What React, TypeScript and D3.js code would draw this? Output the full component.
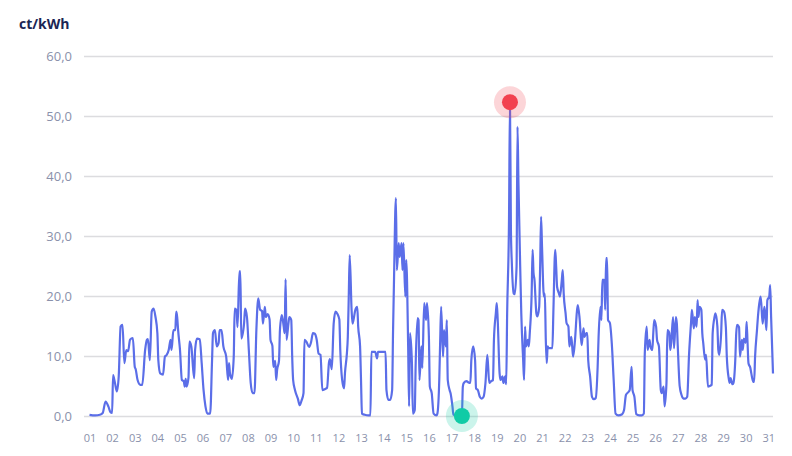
import React, { useEffect, useRef } from 'react';
import * as d3 from 'd3';

// [hour of month, ct/kWh]
const week1: [number, number][] = [
  [0, 0.2], [6, 0.1], [11, 0.2], [14, 0.5], [17, 2.4], [20, 1.6], [22, 0.7], [24, 0.5], [25, 6.8], [27, 5.5],
  [29, 4.1], [31, 6.6], [33, 14.9], [35, 15.2], [37, 8.8], [39, 11], [41, 10.8], [43, 12.7], [46, 13], [48, 8.2],
  [49, 7.8], [51, 6], [54, 5.2], [56, 5.2], [59, 11], [61, 12.7], [62, 12.8], [64, 9.3], [66, 17.4], [68, 17.9],
  [70, 16.5], [72, 13.8], [73, 9.3], [75, 7.1], [78, 6.9], [80, 9.9], [82, 10.2], [84, 11], [86, 12.7], [87, 11],
  [89, 14.3], [91, 14.3], [92, 17.4], [93, 16.5], [94, 14.3], [96, 11], [98, 6], [100, 5.8], [101, 4.9], [102, 6.2],
  [103, 4.9], [105, 6.4], [106, 12.4], [108, 11.6], [111, 6.3], [112, 11], [114, 12.9], [117, 12.8], [119, 8.8], [121, 4.3],
  [123, 1.6], [125, 0.4], [128, 0.4], [130, 9.3], [131, 13.8], [133, 14.3], [135, 11.6], [137, 12.2], [138, 14.3], [140, 14.3],
  [142, 11.6], [145, 9.9], [147, 6], [148, 8.8], [149, 7.1], [151, 6.2], [153, 9.9], [154, 17.9], [156, 17.6], [157, 14.8],
  [159, 24.1], [160, 24.1], [161, 12.9], [164, 15.5], [165, 17.9], [167, 16.5],
];

const week2: [number, number][] = [
  [169, 11], [171, 5.5], [173, 3.8], [175, 3.8], [177, 14.3], [179, 19.6], [181, 17.7], [183, 17.5], [184, 15.4], [186, 18.2],
  [187, 16.5], [189, 17], [191, 16.1], [192, 12.7], [194, 11.7], [195, 8.2], [197, 9.2], [198, 6], [199, 7.7], [201, 9.2],
  [202, 14.3], [204, 16.8], [206, 14.9], [207, 13.8], [208, 22.8], [209, 12.7], [211, 15.4], [212, 16.5], [214, 16], [215, 9.9],
  [216, 6], [218, 4.3], [221, 2.9], [223, 1.8], [225, 2.6], [227, 3.8], [228, 12.7], [230, 12.4], [233, 11.5], [235, 12.3],
  [237, 13.8], [239, 13.7], [241, 12.7], [243, 10.4], [245, 10.2], [247, 4.3], [250, 4.5], [252, 4.7], [254, 8.9], [255, 9.5],
  [257, 7.8], [259, 15.4], [261, 17.4], [263, 17], [265, 16.1], [266, 11], [268, 6], [270, 4.6], [271, 7.2], [273, 10.4],
  [274, 13.2], [275, 19.9], [276, 26.8], [278, 17.7], [279, 15.4], [280, 16], [282, 17.7], [284, 18.2], [285, 14.9], [287, 11.6],
  [288, 6], [289, 0.4], [292, 0.2], [296, 0.1], [298, 0.1], [299, 10.7], [303, 10.7], [305, 9.6], [306, 10.7], [314, 10.7],
  [315, 4.3], [317, 2.7], [319, 2.7], [321, 4.3], [322, 14.3], [323, 22.7], [325, 36.3], [326, 24.3], [328, 28.8], [329, 26.5],
  [331, 28.8], [332, 24.3], [333, 28.8], [335, 19.9],
];

const week3: [number, number][] = [
  [336, 26], [338, 11.6], [339, 1.6], [340, 13.8], [342, 8.8], [343, 0.4], [345, 1], [346, 8.8], [348, 16.3], [349, 16],
  [350, 6], [352, 11.6], [353, 8], [355, 18.8], [357, 16], [358, 18.8], [360, 13.2], [361, 4.9], [363, 3.8], [365, 0.4],
  [368, 0.1], [369, 0.4], [371, 6], [372, 12.7], [373, 18.2], [375, 9.9], [376, 14.3], [378, 11.6], [379, 16], [380, 6],
  [382, 4.3], [383, 3.8], [385, 1.6], [386, 0.2], [390, 0.1], [393, 0.1], [395, 0], [396, 4.9], [397, 5.5], [400, 5.8],
  [402, 5.6], [404, 5.5], [405, 9.3], [407, 11.6], [409, 9.3], [410, 4.6], [412, 4.3], [414, 3.2], [416, 2.9], [418, 3.2],
  [420, 5.5], [422, 10.2], [424, 5.5], [426, 5.8], [428, 6], [429, 12.7], [431, 17.1], [432, 18.8], [433, 16], [435, 7.1],
  [436, 6], [438, 6.6], [439, 5.5], [441, 6.6], [442, 5.3], [443, 17], [445, 33], [446, 52.3], [447, 31], [448, 25.4],
  [450, 20.4], [451, 20.3], [453, 24.9], [454, 48.2], [455, 38.8], [457, 23.8], [458, 17.1], [460, 9.3], [461, 6], [462, 14.9],
  [463, 11.6], [465, 12.7], [466, 11.6], [467, 13.8], [469, 20.4], [470, 27.7], [471, 23.8], [472, 22.7], [474, 17.1], [475, 16.6],
  [477, 18.2], [478, 24.9], [479, 33.2], [480, 28.2], [482, 19.9], [483, 20.4], [484, 12.7], [485, 8.8], [486, 11.6], [487, 11.3],
  [491, 11.3], [492, 17.1], [494, 27.7], [495, 24.9], [496, 21.5], [498, 20.4], [499, 19.9], [501, 22.7], [502, 24.3], [503, 20.4],
];

const week4: [number, number][] = [
  [505, 17.1], [506, 15.5], [508, 14.9], [509, 11.6], [511, 13.2], [512, 11.6], [513, 9.9], [515, 12.7], [517, 17.4], [518, 18.5],
  [520, 16], [522, 11.8], [524, 14.6], [525, 13.2], [527, 13.8], [528, 13.8], [529, 9.3], [531, 6.6], [533, 3.2], [535, 2.8],
  [537, 3], [539, 8.2], [540, 13.2], [542, 18.2], [543, 16], [544, 22.7], [546, 22.7], [547, 17.7], [548, 26.3], [549, 26.3],
  [550, 16], [552, 15.5], [554, 12.1], [556, 6], [558, 0.4], [561, 0.1], [565, 0.3], [567, 1], [569, 3.5], [571, 3.9],
  [573, 4.3], [575, 8.2], [576, 4.3], [578, 3.2], [580, 0.3], [583, 0.1], [586, 0.1], [588, 0.4], [589, 10.4], [591, 14.9],
  [592, 11], [594, 12.7], [595, 11.6], [597, 11], [598, 13.8], [599, 16], [601, 14.9], [602, 12.7], [604, 11.6], [606, 4.3],
  [607, 3.8], [609, 4.9], [610, 1.6], [612, 5.5], [613, 14.3], [615, 13.8], [616, 11], [617, 12.2], [619, 16.5], [620, 11.3],
  [622, 16.5], [623, 15.4], [624, 11.6], [626, 5], [628, 3.5], [630, 2.9], [632, 2.9], [634, 3.2], [636, 10.4], [638, 15.4],
  [639, 17.7], [641, 14.6], [642, 16.5], [644, 14.9], [645, 19.3], [646, 16.5], [647, 18.2], [649, 17.7], [650, 13.8], [651, 12.2],
  [653, 9.4], [654, 10.2], [656, 4.9], [658, 5], [660, 5.2], [661, 13.8], [663, 16.5], [664, 17.1], [666, 14.9], [667, 11],
  [668, 10.2], [670, 13.8], [671, 17.7],
];

const week5: [number, number][] = [
  [673, 17.4], [675, 14.8], [676, 9.9], [678, 6.3], [679, 5.5], [680, 6.3], [682, 5.3], [683, 5.5], [685, 9.4], [686, 13.8],
  [687, 15.2], [689, 14.8], [690, 9.9], [692, 12.7], [693, 11], [694, 12.9], [696, 12.2], [697, 15.7], [698, 12.2], [699, 8.8],
  [701, 8], [702, 7.1], [704, 5.7], [705, 5.7], [706, 9.9], [708, 14.3], [709, 16.5], [711, 19.3], [712, 19.9], [714, 15.4],
  [715, 17.1], [716, 18.2], [718, 14.3], [719, 19.3], [721, 19.9], [722, 21.8], [723, 16.5], [725, 7.1],
];

const dayLabels = [
  "01", "02", "03", "04", "05", "06", "07", "08", "09", "10", "11", "12", "13", "14", "15", "16",
  "17", "18", "19", "20", "21", "22", "23", "24", "25", "26", "27", "28", "29", "30", "31",
];
const priceTicks = [0, 10, 20, 30, 40, 50, 60];

export default function App() {
  const svgRef = useRef<SVGSVGElement>(null);

  useEffect(() => {
    if (!svgRef.current) return;
    const svg = d3.select(svgRef.current);
    svg.selectAll("*").remove();

    const data = [...week1, ...week2, ...week3, ...week4, ...week5].map(([hour, price]) => ({ hour, price }));

    const x = d3.scaleLinear().domain([0, 725]).range([89.5, 773]);
    const y = d3.scaleLinear().domain([0, 60]).range([416, 56]);

    // grid + y labels
    const yAxis = svg.append("g")
      .attr("transform", "translate(84,0)")
      .call(d3.axisLeft(y)
        .tickValues(priceTicks)
        .tickSize(-689)
        .tickPadding(12)
        .tickFormat(d => d3.format(".1f")(d as number).replace(".", ",")));
    yAxis.select(".domain").remove();
    yAxis.selectAll(".tick line").style("stroke", "#dcdcdf").style("stroke-width", 1.3);
    yAxis.selectAll(".tick text")
      .style("fill", "#8a91ab")
      .style("font-size", "13px")
      .style("font-family", "'Open Sans'");

    // day labels
    const xAxis = svg.append("g")
      .attr("transform", "translate(0,416)")
      .call(d3.axisBottom(x)
        .tickValues(dayLabels.map((_, i) => i * 24))
        .tickSize(0)
        .tickPadding(18)
        .tickFormat((_, i) => dayLabels[i]));
    xAxis.select(".domain").remove();
    xAxis.selectAll(".tick text")
      .style("fill", "#8a91ab")
      .style("font-size", "11px")
      .style("font-family", "'Open Sans'");

    // unit title
    svg.append("text")
      .attr("x", 19)
      .attr("y", 29)
      .style("font-family", "'Open Sans'")
      .style("font-weight", 700)
      .style("font-size", "14px")
      .style("fill", "#1b2654")
      .text("ct/kWh");

    const line = d3.line<{ hour: number; price: number }>()
      .x(d => x(d.hour))
      .y(d => y(d.price))
      .curve(d3.curveMonotoneX);

    svg.append("path")
      .datum(data)
      .attr("d", line)
      .attr("fill", "none")
      .attr("stroke", "#5b6ee8")
      .attr("stroke-width", 2.2)
      .attr("stroke-linejoin", "round");

    // min / max markers
    const maxPt = data[d3.maxIndex(data, d => d.price)];
    const minPt = data[d3.minIndex(data, d => d.price)];

    const markers = [
      { pt: maxPt, color: "#f2414f", halo: "rgba(242,65,79,0.22)" },
      { pt: minPt, color: "#10cba6", halo: "rgba(16,203,166,0.22)" },
    ];
    markers.forEach(m => {
      svg.append("circle")
        .attr("cx", x(m.pt.hour))
        .attr("cy", y(m.pt.price))
        .attr("r", 16)
        .attr("fill", m.halo);
      svg.append("circle")
        .attr("cx", x(m.pt.hour))
        .attr("cy", y(m.pt.price))
        .attr("r", 8)
        .attr("fill", m.color);
    });
  }, []);

  return (
    <svg
      ref={svgRef}
      width={792}
      height={456}
      style={{ position: "absolute", left: 0, top: 0, background: "#fff" }}
    ></svg>
  );
}
